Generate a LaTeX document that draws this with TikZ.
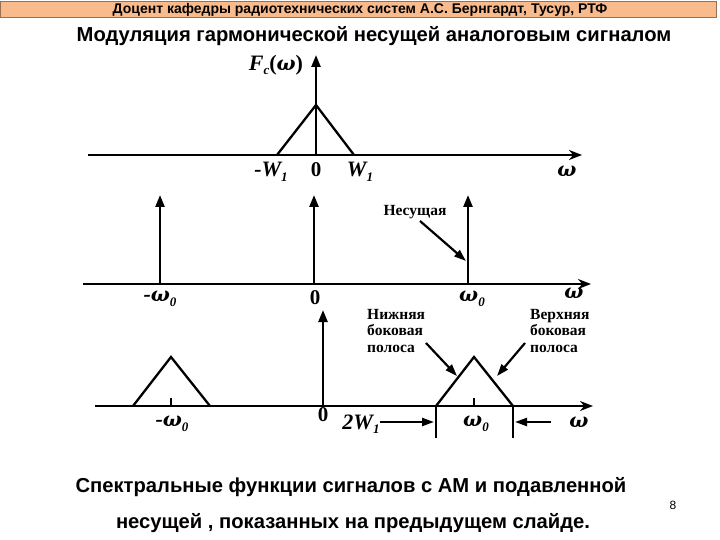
\documentclass[tikz,border=0pt]{standalone}
\usepackage{fontspec}
\setmainfont{Liberation Sans}
\newfontfamily\tms{Liberation Serif}
\newfontfamily\dvs{DejaVu Serif}
\usetikzlibrary{arrows.meta}
\definecolor{barfill}{HTML}{F9BA8C}
\newcommand{\subi}[1]{\raisebox{-0.45ex}{\fontsize{13}{13}\selectfont #1}}
\newcommand{\om}{{\dvs\bfseries\itshape\fontsize{20}{20}\selectfont ω}}
\begin{document}
\begin{tikzpicture}[x=1pt,y=-1pt,
  axis/.style={line width=2.4pt,-{Stealth[length=13pt,width=10pt]}},
  spike/.style={line width=2.4pt,-{Triangle[length=12pt,width=9pt]}},
  tri/.style={line width=2.3pt,line join=miter},
  ptr/.style={line width=2.2pt,-{Triangle[length=12pt,width=8pt]}},
  tick/.style={line width=2.2pt},
  mlbl/.style={font=\tms\bfseries\itshape\fontsize{22}{22}\selectfont,inner sep=0pt},
  zlbl/.style={font=\tms\bfseries\fontsize{21}{21}\selectfont,inner sep=0pt},
  note/.style={font=\tms\bfseries\fontsize{15.5}{16.5}\selectfont,inner sep=0pt,align=left},
  hdr/.style={font=\bfseries\fontsize{14}{14}\selectfont,inner sep=0pt},
  big/.style={font=\bfseries\fontsize{20.2}{20.2}\selectfont,inner sep=0pt}
]
\useasboundingbox (0,0) rectangle (720,540);
\fill[white] (0,0) rectangle (720,540);
% header
\draw[barfill!60!black,fill=barfill,line width=0.8pt] (0.5,1) rectangle (716,17.5);
\node[hdr] (hdr) at (360,9.5) {Доцент кафедры радиотехнических систем А.С. Бернгардт,  Тусур, РТФ};
\node[big] (title) at (374,36) {Модуляция гармонической несущей аналоговым сигналом};

% ---------- top plot ----------
\coordinate (a1s) at (88,155);
\coordinate (a1e) at (582,155);
\coordinate (o1) at (316,155);
\coordinate (v1) at (316,55);
\coordinate (t1l) at (277,155);
\coordinate (t1p) at (316,105);
\coordinate (t1r) at (354,155);
\draw[axis] (a1s) -- (a1e);
\draw[spike] (o1) -- (v1);
\draw[tri] (t1l) -- (t1p) -- (t1r);
\node[mlbl] (fc) at (276,65) {F\subi{c}\upshape(\om\upshape)};
\node[mlbl] (mw1) at (271,172) {-W\subi{1}};
\node[zlbl] (z1) at (316,170) {0};
\node[mlbl] (w1) at (360,172) {W\subi{1}};
\node[mlbl] (om1) at (567,171) {\om};

% ---------- middle plot ----------
\coordinate (a2s) at (83,284);
\coordinate (a2e) at (591,284);
\coordinate (b2a) at (160,284);
\coordinate (s2a) at (160,195);
\coordinate (b2b) at (314,284);
\coordinate (s2b) at (314,195);
\coordinate (b2c) at (468,284);
\coordinate (s2c) at (468,195);
\draw[axis] (a2s) -- (a2e);
\draw[spike] (b2a) -- (s2a);
\draw[spike] (b2b) -- (s2b);
\draw[spike] (b2c) -- (s2c);
\node[mlbl] (mo2) at (160,299) {-\om\subi{0}};
\node[zlbl] (z2) at (315,298) {0};
\node[mlbl] (po2) at (472,299) {\om\subi{0}};
\node[mlbl] (om2) at (574,293) {\om};
\node[note] (carrier) at (415,212) {Несущая};
\coordinate (cend) at (466,261);
\draw[ptr] (420,221) -- (cend);

% ---------- bottom plot ----------
\coordinate (a3s) at (95,406);
\coordinate (a3e) at (593,406);
\coordinate (t3l) at (133,406);
\coordinate (t3p) at (171,357);
\coordinate (t3r) at (210,406);
\coordinate (u3l) at (436,406);
\coordinate (u3p) at (474,357);
\coordinate (u3r) at (513,406);
\coordinate (o3) at (323,406);
\coordinate (v3) at (323,310);
\draw[axis] (a3s) -- (a3e);
\draw[tri] (t3l) -- (t3p) -- (t3r);
\draw[tri] (u3l) -- (u3p) -- (u3r);
\draw[tick] (171,406) -- (171,398);
\draw[tick] (474,406) -- (474,398);
\draw[spike] (o3) -- (v3);
\coordinate (d3l) at (436,438);
\coordinate (d3r) at (513,438);
\draw[tick] (u3l) -- (d3l);
\draw[tick] (u3r) -- (d3r);
\node[mlbl] (mo3) at (172,424) {-\om\subi{0}};
\node[zlbl] (z3) at (323,415) {0};
\node[mlbl] (po3) at (476,424) {\om\subi{0}};
\node[mlbl] (om3) at (579,422) {\om};
\node[mlbl] (bw) at (361,424) {2W\subi{1}};
\coordinate (bwl) at (434,422);
\coordinate (bwr) at (515,422);
\draw[ptr] (380,422) -- (bwl);
\draw[ptr] (551,422) -- (bwr);
\node[note,anchor=north west] (lsb) at (367,309) {Нижняя\\боковая\\полоса};
\node[note,anchor=north west] (usb) at (530,309) {Верхняя\\боковая\\полоса};
\draw[ptr] (426,343) -- (457,376);
\draw[ptr] (525,343) -- (497,376);

% ---------- caption ----------
\node[big] (cap1) at (351,487) {Спектральные функции сигналов с АМ  и подавленной};
\node[big] (cap2) at (353,523) {несущей , показанных на предыдущем слайде.};
\node[font=\fontsize{12}{12}\selectfont,inner sep=0pt] (pg) at (673,505) {8};
\end{tikzpicture}
\end{document}
